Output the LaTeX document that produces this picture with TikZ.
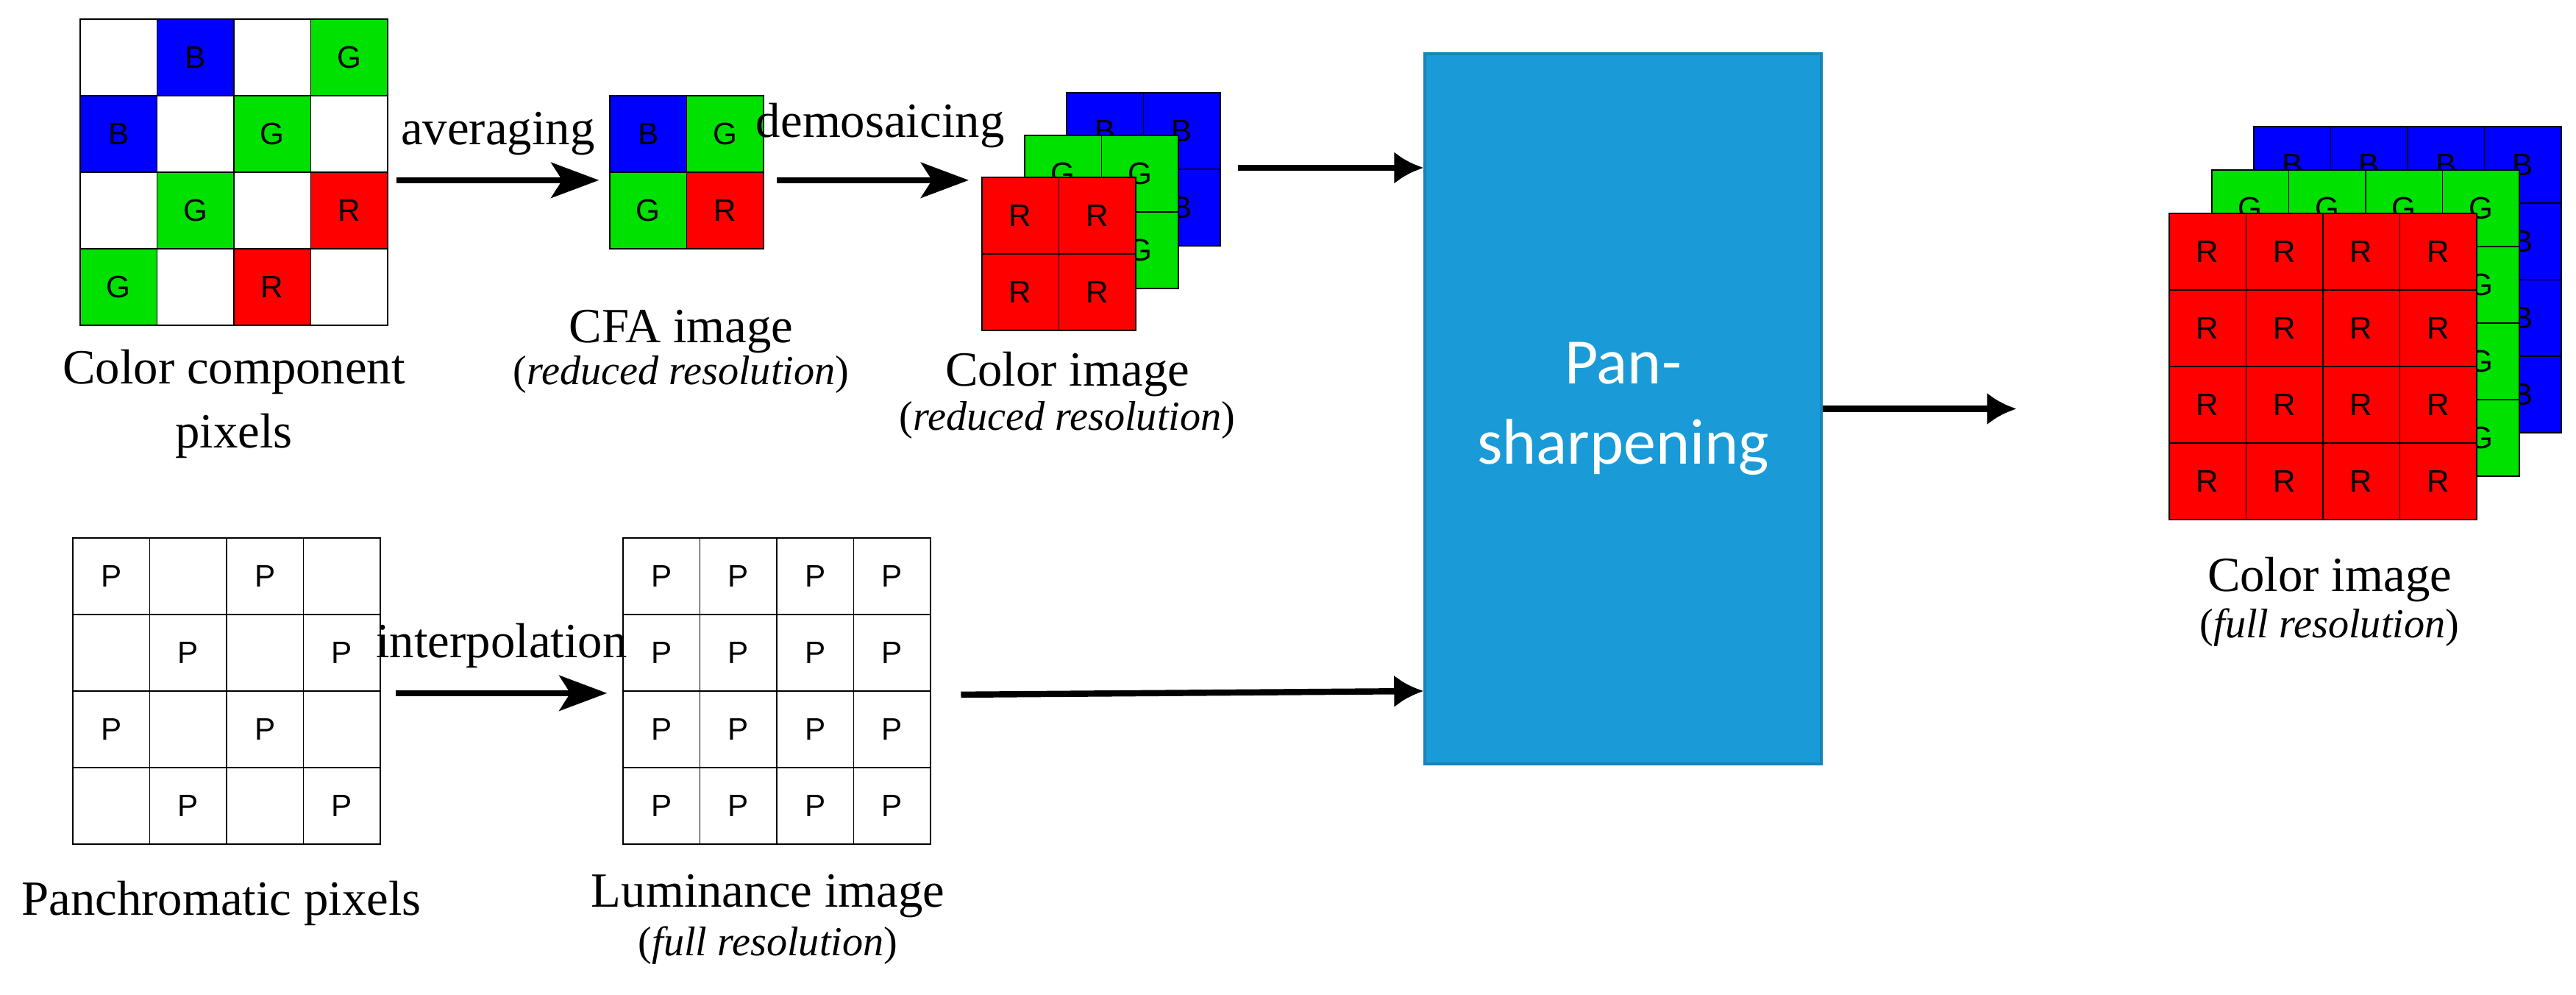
\documentclass[tikz,border=0pt]{standalone}
\usepackage{fontspec}
\setmainfont{Liberation Serif}
\setsansfont{Liberation Sans}
\newfontfamily\calibri{Carlito}
\usetikzlibrary{arrows.meta,positioning,fit}

\begin{document}
\begin{tikzpicture}[
    pix/.style={rectangle, draw=black, line width=0.5pt, minimum width=1.045cm, minimum height=1.04cm, inner sep=0pt, anchor=north west, font=\sffamily\fontsize{12}{12}\selectfont},
    lbl/.style={font=\fontsize{19}{25}\selectfont, align=center, inner sep=0pt},
    sub/.style={font=\itshape\fontsize{16}{18}\selectfont, inner sep=0pt},
    arr/.style={line width=2.4pt, -{Stealth[length=6.5mm,width=4.8mm,inset=1.5mm]}},
    arrs/.style={line width=2.4pt, -{Latex[length=4mm,width=4.4mm]}}
]
\useasboundingbox (0,0) rectangle (35.02,13.51);
\definecolor{pgreen}{RGB}{0,225,0}
\definecolor{pshblue}{RGB}{26,155,215}

% Color component pixels
\foreach \r/\c/\f/\t in {0/0/white/{},0/1/blue/B,0/2/white/{},0/3/pgreen/G,
    1/0/blue/B,1/1/white/{},1/2/pgreen/G,1/3/white/{},
    2/0/white/{},2/1/pgreen/G,2/2/white/{},2/3/red/R,
    3/0/pgreen/G,3/1/white/{},3/2/red/R,3/3/white/{}} {
    \node[pix, fill=\f] (ccp-\r-\c) at ({1.08+1.045*\c},{13.26-1.04*\r}) {\t};
}
\node[fit=(ccp-0-0)(ccp-3-3), inner sep=0pt] (ccp) {};

% CFA image
\foreach \r/\c/\f/\t in {0/0/blue/B,0/1/pgreen/G,1/0/pgreen/G,1/1/red/R} {
    \node[pix, fill=\f] (cfa-\r-\c) at ({8.28+1.045*\c},{12.22-1.04*\r}) {\t};
}
\node[fit=(cfa-0-0)(cfa-1-1), inner sep=0pt] (cfa) {};

% Color image, reduced resolution (back to front)
\foreach \r in {0,1} {
  \foreach \c in {0,1} {
    \node[pix, fill=blue] (rb-\r-\c) at ({14.49+1.045*\c},{12.26-1.04*\r}) {B};
  }
}
\foreach \r in {0,1} {
  \foreach \c in {0,1} {
    \node[pix, fill=pgreen] (rg-\r-\c) at ({13.92+1.045*\c},{11.68-1.04*\r}) {G};
  }
}
\foreach \r in {0,1} {
  \foreach \c in {0,1} {
    \node[pix, fill=red] (rr-\r-\c) at ({13.34+1.045*\c},{11.11-1.04*\r}) {R};
  }
}
\node[fit=(rb-0-1)(rr-1-0), inner sep=0pt] (cimg) {};

% Panchromatic pixels
\foreach \r/\c/\t in {0/0/P,0/1/{},0/2/P,0/3/{},1/0/{},1/1/P,1/2/{},1/3/P,
    2/0/P,2/1/{},2/2/P,2/3/{},3/0/{},3/1/P,3/2/{},3/3/P} {
    \node[pix, fill=white] (pan-\r-\c) at ({0.98+1.045*\c},{6.21-1.04*\r}) {\t};
}
\node[fit=(pan-0-0)(pan-3-3), inner sep=0pt] (pan) {};

% Luminance image
\foreach \r in {0,...,3} {
  \foreach \c in {0,...,3} {
    \node[pix, fill=white] (lum-\r-\c) at ({8.46+1.045*\c},{6.21-1.04*\r}) {P};
  }
}
\node[fit=(lum-0-0)(lum-3-3), inner sep=0pt] (lum) {};

% Pan-sharpening
\node[rectangle, draw=pshblue!85!black, line width=1pt, fill=pshblue, minimum width=5.39cm, minimum height=9.65cm,
      text=white, align=center, font=\calibri\fontsize{25}{31}\selectfont] (psh) at (22.065,7.955) {Pan-\\sharpening};

% Color image, full resolution (back to front)
\foreach \r in {0,...,3} {
  \foreach \c in {0,...,3} {
    \node[pix, fill=blue] (fb-\r-\c) at ({30.63+1.045*\c},{11.80-1.04*\r}) {B};
  }
}
\foreach \r in {0,...,3} {
  \foreach \c in {0,...,3} {
    \node[pix, fill=pgreen] (fg-\r-\c) at ({30.06+1.045*\c},{11.21-1.04*\r}) {G};
  }
}
\foreach \r in {0,...,3} {
  \foreach \c in {0,...,3} {
    \node[pix, fill=red] (fr-\r-\c) at ({29.48+1.045*\c},{10.62-1.04*\r}) {R};
  }
}
\node[fit=(fb-0-3)(fr-3-0), inner sep=0pt] (out) {};

% Labels
\node[lbl] (ccp-l) at (3.18,8.02) {Color component\\pixels};
\node[lbl] (cfa-l) at (9.26,9.0) {CFA image};
\node[sub] (cfa-s) at (9.26,8.42) {\upshape(\itshape reduced resolution\upshape)};
\node[lbl] (cimg-l) at (14.51,8.42) {Color image};
\node[sub] (cimg-s) at (14.51,7.80) {\upshape(\itshape reduced resolution\upshape)};
\node[lbl] (pan-l) at (3.01,1.24) {Panchromatic pixels};
\node[lbl] (lum-l) at (10.44,1.33) {Luminance image};
\node[sub] (lum-s) at (10.44,0.66) {\upshape(\itshape full resolution\upshape)};
\node[lbl] (out-l) at (31.67,5.63) {Color image};
\node[sub] (out-s) at (31.67,4.98) {\upshape(\itshape full resolution\upshape)};

% Arrows
\coordinate (a1) at ([xshift=1.1mm,yshift=-1.1mm]ccp.east);
\coordinate (a2) at ([xshift=1.7mm,yshift=-1.1mm]cfa.east);
\coordinate (a3) at ([xshift=2.3mm]cimg.east |- 0,11.23);
\draw[arr] (a1) -- node[lbl, above=3mm] {averaging} ([xshift=-1.3mm]a1 -| cfa.west);
\draw[arr] (a2) -- node[lbl, above=4mm, xshift=1mm] {demosaicing} ([xshift=-1.7mm]a2 -| rr-0-0.west);
\draw[arrs] (a3) -- (a3 -| psh.west);
\draw[arr] ([xshift=2mm,yshift=-0.3mm]pan.east) -- node[lbl, above=3mm] {interpolation} ([xshift=-2mm,yshift=-0.3mm]lum.west);
\draw[arrs] ([xshift=4mm,yshift=-0.5mm]lum.east) -- (psh.west |- 0,4.12);
\draw[arrs] (psh.east) -- ([xshift=-20.6mm]out.west |- psh.east);

\end{tikzpicture}
\end{document}
